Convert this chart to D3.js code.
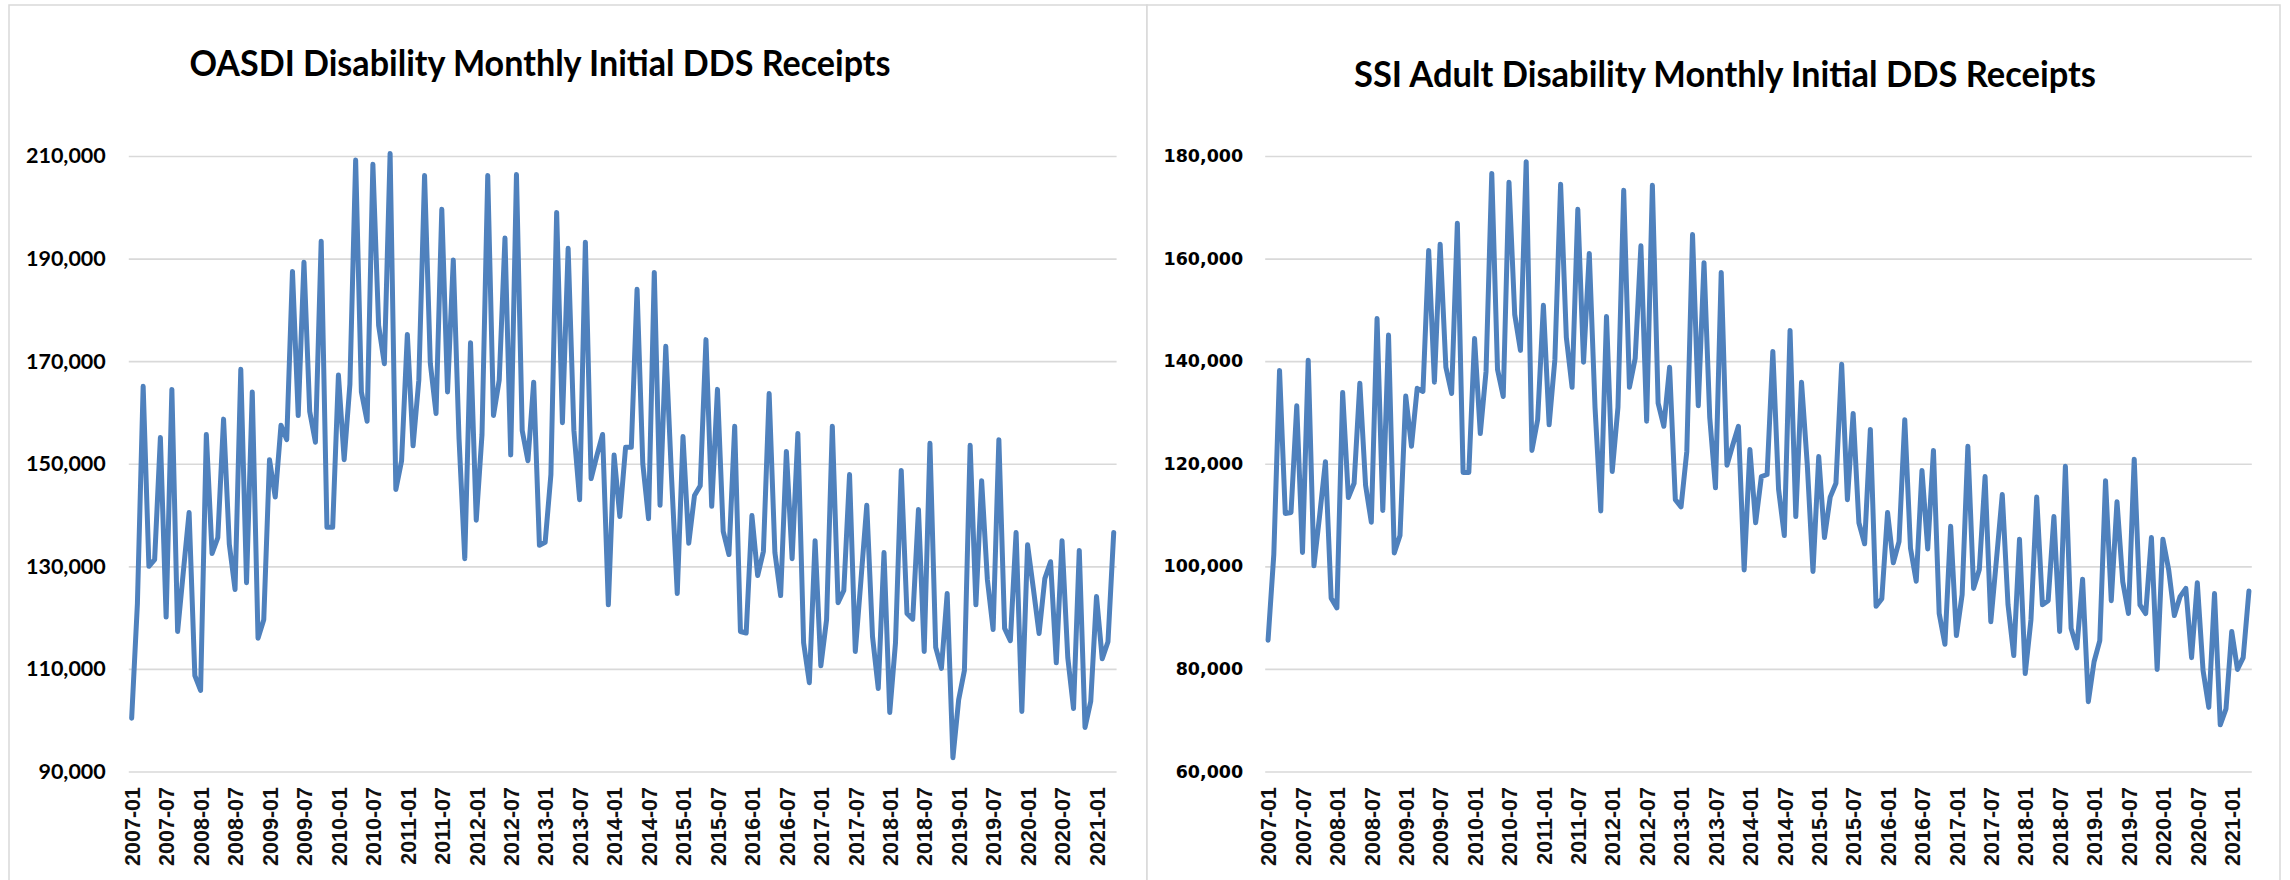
<!DOCTYPE html>
<html>
<head>
<meta charset="utf-8">
<script src="https://cdn.jsdelivr.net/npm/d3@7"></script>
<style>
    body { margin: 0; background: #fff; }
    svg { display: block; }
</style>
</head>
<body>
<svg id="chartSVG" width="2290" height="880"></svg>
<script>

// monthly categories 2007-01 .. 2021-04
const months = d3.timeMonth.range(new Date(2007, 0, 1), new Date(2021, 4, 1)).map(d3.timeFormat('%Y-%m'));

// every 6th month gets a label
const tickLabels = months.filter((d, i) => i % 6 === 0);

const oasdiTitle = 'OASDI Disability Monthly Initial DDS Receipts';
const ssiTitle = 'SSI Adult Disability Monthly Initial DDS Receipts';

const oasdiTicks = [90000, 110000, 130000, 150000, 170000, 190000, 210000];
const ssiTicks = [60000, 80000, 100000, 120000, 140000, 160000, 180000];

// OASDI receipts
const oasdiValues = [
    100400, 122800, 165100, 130000, 131300, 155100, 120100, 164500, 117300, 129000,
    140500, 108700, 105800, 155700, 132500, 135600, 158700, 134300, 125500, 168400,
    126800, 164000, 116000, 119600, 150800, 143500, 157500, 154700, 187500, 159400,
    189300, 160200, 154200, 193400, 137600, 137600, 167300, 150800, 165500, 209200,
    164000, 158300, 208400, 177000, 169500, 210500, 145000, 150600, 175200, 153500,
    166300, 206200, 169600, 159800, 199600, 164000, 189700, 154900, 131500, 173600,
    139000, 155700, 206200, 159400, 166300, 194000, 151700, 206400, 156500, 150600,
    165900, 134100, 134700, 147900, 199000, 158000, 192000, 156500, 143000, 193200,
    147100, 151600, 155700, 122500, 151700, 139700, 153200, 153200, 184000, 150000,
    139300, 187300, 141900, 172900, 147500, 124700, 155300, 134500, 143800, 145700,
    174200, 141700, 164500, 136800, 132300, 157300, 117300, 117000, 139900, 128200,
    132900, 163700, 132700, 124300, 152400, 131500, 155900, 115100, 107300, 135000,
    110600, 119600, 157300, 122900, 125300, 147900, 113400, 127500, 141900, 116300,
    106200, 132700, 101500, 115100, 148700, 120800, 119700, 141100, 113400, 154000,
    114200, 110100, 124700, 92700, 104000, 109700, 153600, 122500, 146700, 127400,
    117700, 154700, 117900, 115500, 136600, 101700, 134200, 125700, 116900, 127600,
    130900, 111200, 135000, 112200, 102300, 133100, 98600, 103700, 124100, 112000,
    115300, 136600
];

// SSI adult receipts
const ssiValues = [
    85600, 102300, 138200, 110300, 110500, 131300, 102700, 140200, 100100, 110000,
    120400, 93800, 91900, 133900, 113400, 116200, 135700, 115800, 108600, 148300,
    110900, 145100, 102600, 106000, 133200, 123400, 134700, 134100, 161600, 135900,
    162800, 138800, 133700, 166900, 118300, 118300, 144400, 125900, 138000, 176600,
    138400, 133100, 174900, 149100, 142100, 178900, 122600, 128600, 150900, 127600,
    140300, 174500, 144600, 134900, 169600, 139800, 161000, 131000, 110800, 148700,
    118500, 131000, 173300, 134900, 140500, 162500, 128300, 174300, 131800, 127300,
    138800, 113000, 111600, 122400, 164700, 131300, 159200, 129000, 115300, 157300,
    119700, 123600, 127300, 99300, 122800, 108500, 117500, 117900, 141900, 115000,
    106000, 146000, 109700, 135900, 119900, 99000, 121400, 105600, 113500, 116200,
    139400, 113000, 129800, 108500, 104400, 126700, 92200, 93700, 110500, 100700,
    104800, 128600, 103500, 97100, 118700, 103400, 122600, 90800, 84800, 107800,
    86500, 94500, 123400, 95700, 99400, 117500, 89200, 101500, 114000, 92500,
    82600, 105300, 79100, 89600, 113500, 92500, 93300, 109700, 87300, 119500,
    87900, 84100, 97500, 73600, 81400, 85500, 116700, 93300, 112600, 97000,
    90800, 120900, 92500, 90800, 105600, 79900, 105300, 99400, 90400, 94100,
    95700, 82200, 96800, 79700, 72500, 94700, 69100, 72200, 87300, 79900,
    82200, 95200
];

const svg = d3.select('#chartSVG');

/**
 * draw one chart panel
 * @param opt placement + data for the panel
 */
function drawPanel(opt) {

    const g = svg.append('g');

    // panel frame
    g.append('rect')
        .attr('x', opt.box[0])
        .attr('y', opt.box[1])
        .attr('width', opt.box[2])
        .attr('height', opt.box[3])
        .attr('fill', '#fff')
        .attr('stroke', '#d9d9d9')
        .attr('stroke-width', 1.5);

    const x = d3.scalePoint()
        .domain(months)
        .range(opt.xRange)
        .padding(0.5);

    const y = d3.scaleLinear()
        .domain(d3.extent(opt.ticks))
        .range([771.5, 156]);

    const plotW = opt.xRange[1] - opt.xRange[0];

    // y axis + gridlines
    const yAxis = g.append('g')
        .attr('transform', `translate(${opt.xRange[0]},0)`)
        .call(d3.axisLeft(y)
            .tickValues(opt.ticks)
            .tickSize(-plotW)
            .tickPadding(opt.yPad)
            .tickFormat(d3.format(',')));

    yAxis.select('.domain').remove();
    yAxis.selectAll('line')
        .attr('stroke', '#d9d9d9')
        .attr('stroke-width', 1.6);
    yAxis.selectAll('text')
        .attr('fill', '#000')
        .style('font-family', opt.yFont)
        .style('font-size', opt.yFontSize + 'px')
        .style('font-weight', 'bold');

    // x axis labels, rotated
    const xAxis = g.append('g')
        .attr('transform', 'translate(0,771.5)')
        .call(d3.axisBottom(x)
            .tickValues(tickLabels)
            .tickSize(0));

    xAxis.select('.domain').remove();
    xAxis.selectAll('text')
        .attr('transform', 'rotate(-90)')
        .attr('text-anchor', 'end')
        .attr('x', -15.5)
        .attr('y', 0)
        .attr('dy', '0.36em')
        .attr('fill', '#111')
        .style('font-family', '"Liberation Sans", Arial, sans-serif')
        .style('font-size', '21.5px')
        .style('font-weight', 'bold');

    // the series
    const line = d3.line()
        .x((d, i) => x(months[i]))
        .y((d) => y(d));

    g.append('path')
        .datum(opt.values)
        .attr('d', line)
        .attr('fill', 'none')
        .attr('stroke', '#4f81bd')
        .attr('stroke-width', 5)
        .attr('stroke-linejoin', 'round')
        .attr('stroke-linecap', 'round');

    // title
    g.append('text')
        .attr('x', opt.title[1])
        .attr('y', opt.title[2])
        .attr('text-anchor', 'middle')
        .attr('textLength', opt.title[3])
        .attr('lengthAdjust', 'spacingAndGlyphs')
        .style('font-family', 'Lato, "Open Sans", sans-serif')
        .style('font-size', '36px')
        .style('font-weight', 'bold')
        .attr('fill', '#000')
        .text(opt.title[0]);
}

drawPanel({
    box: [9, 5, 1138, 900],
    xRange: [128.8, 1116.6],
    ticks: oasdiTicks,
    values: oasdiValues,
    yPad: 23,
    yFont: 'Lato, "Open Sans", sans-serif',
    yFontSize: 21.5,
    title: [oasdiTitle, 540, 76, 701]
});

drawPanel({
    box: [1147, 5, 1133, 900],
    xRange: [1265.2, 2251.8],
    ticks: ssiTicks,
    values: ssiValues,
    yPad: 22,
    yFont: '"DejaVu Sans", Verdana, sans-serif',
    yFontSize: 17.5,
    title: [ssiTitle, 1725, 87, 742]
});

</script>
</body>
</html>
